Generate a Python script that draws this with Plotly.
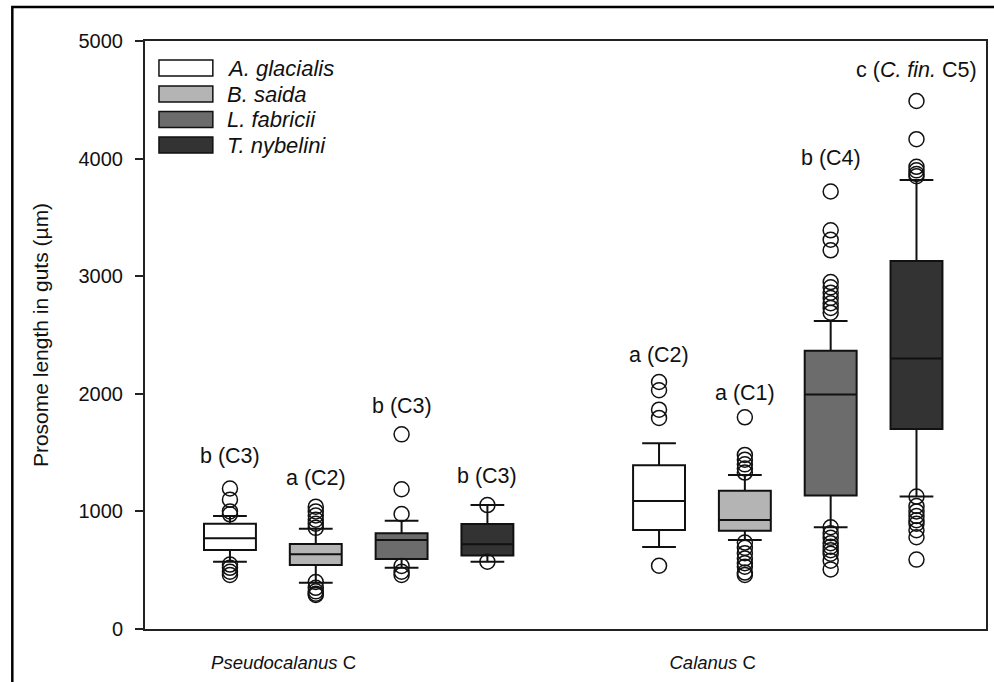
import plotly.graph_objects as go

# ---- data -------------------------------------------------------------
groups = ["Pseudocalanus C", "Calanus C"]
group_labels = ["<i>Pseudocalanus</i> C", "<i>Calanus</i> C"]
species = ["A. glacialis", "B. saida", "L. fabricii", "T. nybelini"]
fills = ["#ffffff", "#b4b4b4", "#6c6c6c", "#333333"]

# box statistics per group (rows) and species (columns)
q1 = [[672, 544, 595, 624], [842, 836, 1135, 1700]]
median = [[772, 635, 757, 720], [1088, 927, 1995, 2300]]
q3 = [[895, 723, 814, 893], [1392, 1176, 2366, 3130]]
lower_whisker = [[572, 394, 521, 572], [697, 757, 865, 1126]]
upper_whisker = [[961, 853, 921, 1054], [1579, 1310, 2620, 3818]]

outliers = [
    [
        [1195, 1100, 1000, 975, 548, 520, 487, 460],
        [1040, 1000, 965, 930, 895, 860, 400, 350, 320, 300, 290],
        [1655, 1188, 978, 536, 487, 459],
        [1054, 572],
    ],
    [
        [2100, 2030, 1865, 1795, 538],
        [1800, 1480, 1440, 1400, 1365, 1330, 735, 690, 645, 600, 560, 530, 480, 460],
        [3720, 3390, 3310, 3220, 2950, 2905, 2860, 2815, 2770, 2730, 2690,
         865, 815, 775, 730, 700, 670, 640, 580, 507],
        [4490, 4165, 3930, 3900, 3870, 3850, 1126, 1046, 1000, 960, 925, 895,
         840, 780, 590],
    ],
]

letters = [
    ["b (C3)", "a (C2)", "b (C3)", "b (C3)"],
    ["a (C2)", "a (C1)", "b (C4)", "c (<i>C. fin.</i> C5)"],
]
letter_y = [[1470, 1285, 1895, 1300], [2330, 2005, 4005, 4755]]

# ---- layout geometry ------------------------------------------------
W, H = 994, 682
ML, MR, MT, MB = 145, 6, 41, 53
PW, PH = W - ML - MR, H - MT - MB

group_pos = [1.0, 2.0]
offsets = [-0.3, -0.1, 0.1, 0.3]
box_w = 0.121
label_shift = -0.175

FONT = "Arial, Liberation Sans, sans-serif"
INK = "#111111"

fig = go.Figure()

for g in range(len(groups)):
    for s in range(len(species)):
        x = group_pos[g] + offsets[s]
        fig.add_trace(go.Box(
            x=[x],
            q1=[q1[g][s]], median=[median[g][s]], q3=[q3[g][s]],
            lowerfence=[lower_whisker[g][s]], upperfence=[upper_whisker[g][s]],
            width=box_w, whiskerwidth=0.65,
            fillcolor=fills[s], line=dict(color=INK, width=2),
            boxpoints=False, showlegend=False, name=species[s],
        ))
        pts = outliers[g][s]
        fig.add_trace(go.Scatter(
            x=[x] * len(pts), y=pts, mode="markers",
            marker=dict(symbol="circle-open", size=15,
                        color=INK, line=dict(width=1.5, color=INK)),
            showlegend=False, hoverinfo="y",
        ))

annotations = []
for g in range(len(groups)):
    for s in range(len(species)):
        annotations.append(dict(
            x=group_pos[g] + offsets[s], y=letter_y[g][s], xref="x", yref="y",
            text=letters[g][s], showarrow=False,
            font=dict(family=FONT, size=21.5, color=INK),
        ))

# legend drawn as swatches + labels in the top-left corner
def px(xp):
    return (xp - ML) / PW

def py(yp):
    return (H - MB - yp) / PH

shapes = []
row_y = [68, 94, 119.5, 145]
for s in range(len(species)):
    shapes.append(dict(
        type="rect", xref="paper", yref="paper",
        x0=px(159), x1=px(213), y0=py(row_y[s] + 8), y1=py(row_y[s] - 8),
        fillcolor=fills[s], line=dict(color=INK, width=1.5),
    ))
    annotations.append(dict(
        x=px(225), y=py(row_y[s]), xref="paper", yref="paper",
        xanchor="left", yanchor="middle", showarrow=False,
        text="<i>%s</i>" % species[s],
        font=dict(family=FONT, size=22, color=INK),
    ))

# outer figure frame
shapes.append(dict(
    type="rect", xref="paper", yref="paper",
    x0=px(12), x1=px(1010), y0=py(700), y1=py(7),
    line=dict(color="#000000", width=2.5), fillcolor="rgba(0,0,0,0)",
    layer="above",
))

fig.update_layout(
    width=W, height=H,
    margin=dict(l=ML, r=MR, t=MT, b=MB),
    paper_bgcolor="white", plot_bgcolor="white",
    font=dict(family=FONT, size=18, color=INK),
    annotations=annotations, shapes=shapes,
    showlegend=False,
    xaxis=dict(
        range=[0.502, 2.462],
        tickvals=[p + label_shift for p in group_pos], ticktext=group_labels,
        ticks="", showgrid=False, zeroline=False,
        showline=True, linecolor="#222222", linewidth=2, mirror=True,
        ticklabelstandoff=16,
        tickfont=dict(family=FONT, size=18.5, color=INK),
    ),
    yaxis=dict(
        range=[0, 5000], tickvals=[0, 1000, 2000, 3000, 4000, 5000],
        ticks="outside", ticklen=8, tickwidth=1.5, tickcolor="#222222",
        showgrid=False, zeroline=False,
        showline=True, linecolor="#222222", linewidth=2, mirror=True,
        ticklabelstandoff=8,
        tickfont=dict(family=FONT, size=20, color=INK),
        title=dict(text="Prosome length in guts (µm)", standoff=24,
                   font=dict(family=FONT, size=21, color=INK)),
    ),
)

fig.write_html("out.html")
